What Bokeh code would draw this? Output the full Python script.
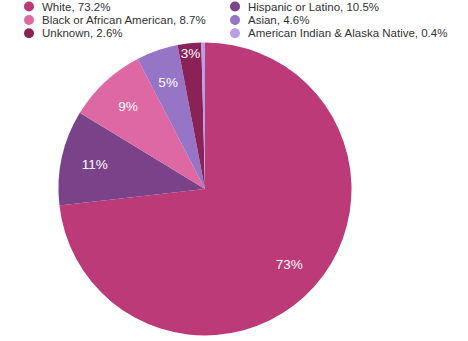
import math
from bokeh.plotting import figure
from bokeh.models import Range1d, ColumnDataSource
from bokeh.core.properties import value
from bokeh.embed import file_html
from bokeh.resources import INLINE

# ---- data ----
categories = ["White", "Hispanic or Latino", "Black or African American",
              "Asian", "Unknown", "American Indian & Alaska Native"]
shares = [73.2, 10.5, 8.7, 4.6, 2.6, 0.4]
colors = ["#bb3a77", "#7a4389", "#dd68a3", "#9674c6", "#8a2258", "#b99de6"]

W, H = 468, 341
CX, CY, R = 204.5, H - 188.5, 146.5
FONT = "Liberation Sans"

p = figure(width=W, height=H, output_backend="svg", toolbar_location=None,
           x_range=Range1d(0, W), y_range=Range1d(0, H), min_border=0)
p.axis.visible = False
p.grid.visible = False
p.outline_line_color = None
p.background_fill_color = "white"
p.border_fill_color = "white"

total = sum(shares)
starts, ends, lx, ly, ltxt = [], [], [], [], []
cum = 0.0
for s in shares:
    f0 = cum / total
    f1 = (cum + s) / total
    cum += s
    starts.append(math.pi / 2 - 2 * math.pi * f1)
    ends.append(math.pi / 2 - 2 * math.pi * f0)
    mid = 2 * math.pi * (f0 + f1) / 2
    pct = int(s + 0.5)
    if pct >= 1:
        k = 0.77 if s >= 4 else 0.93
        lx.append(CX + math.sin(mid) * R * k)
        ly.append(CY + math.cos(mid) * R * k)
        ltxt.append(f"{pct}%")

src = ColumnDataSource(dict(start=starts, end=ends, color=colors))
p.wedge(x=CX, y=CY, radius=R, start_angle="start", end_angle="end",
        fill_color="color", line_color=None, source=src)

p.text(x=lx, y=ly, text=ltxt, text_color="white", text_font=value(FONT),
       text_font_size="13.5px", text_align="center", text_baseline="middle")

# ---- legend (2 columns, row-major) ----
col_x = [28.5, 234.5]
row_y = [6, 19.5, 32.8]
mx, my, tx, ty, tt = [], [], [], [], []
for i, (c, s) in enumerate(zip(categories, shares)):
    r, cidx = divmod(i, 2)
    mx.append(col_x[cidx])
    my.append(H - row_y[r])
    tx.append(col_x[cidx] + 13)
    ty.append(H - row_y[r])
    tt.append(f"{c}, {s}%")
p.scatter(x=mx, y=my, size=10, fill_color=colors, line_color=None)
p.text(x=tx, y=ty, text=tt, text_color="#333333", text_font=value(FONT),
       text_font_size="11.5px", text_align="left", text_baseline="middle")

open("out.html", "w").write(file_html(p, INLINE))
